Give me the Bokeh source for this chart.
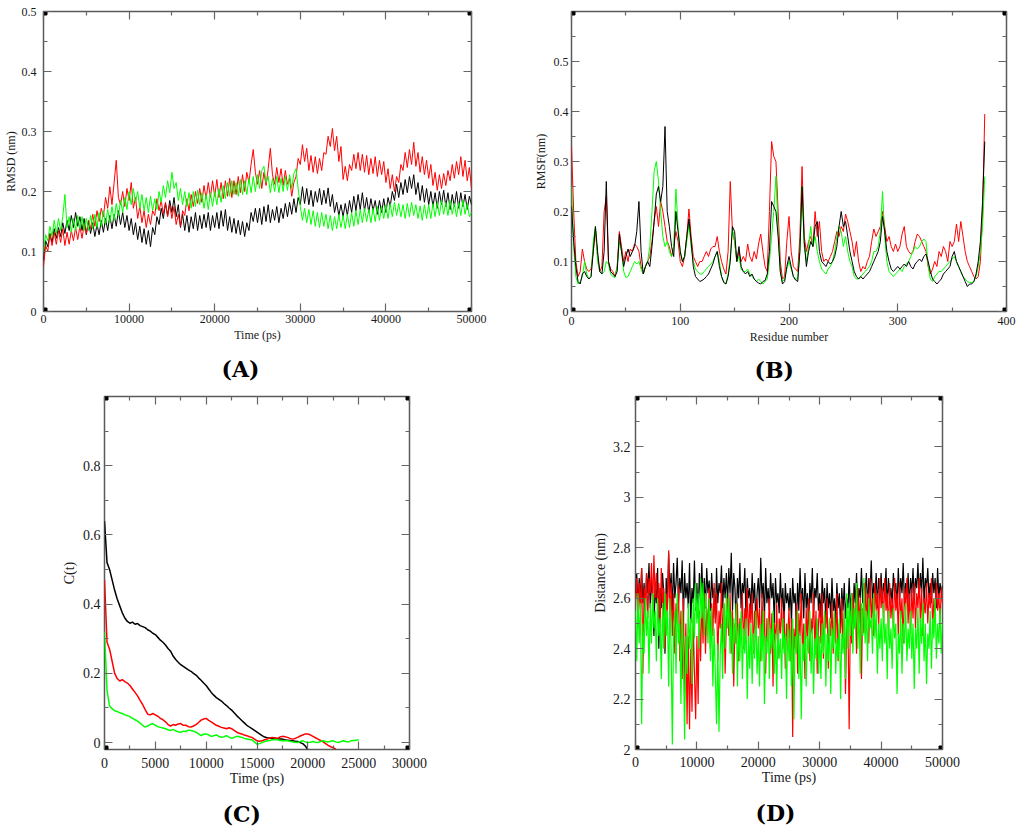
from bokeh.plotting import figure
from bokeh.layouts import column, row
from bokeh.models import (FixedTicker, LinearAxis, Range1d, Title, NumeralTickFormatter,
                          CustomLabelingPolicy)
from bokeh.embed import file_html
from bokeh.resources import INLINE

# ---------------- DATA ----------------
# (A) RMSD vs time, sampled every 250 ps
A_STEP = 250
a_black = [0.085, 0.118, 0.108, 0.13, 0.115, 0.138, 0.122, 0.14, 0.125, 0.148, 0.13, 0.152, 0.135, 0.16, 0.14, 0.165, 0.142, 0.158, 0.135, 0.155,
           0.128, 0.15, 0.13, 0.148, 0.125, 0.145, 0.128, 0.152, 0.132, 0.155, 0.135, 0.16, 0.138, 0.162, 0.142, 0.168, 0.145, 0.165, 0.14, 0.16,
           0.135, 0.155, 0.128, 0.148, 0.12, 0.142, 0.115, 0.138, 0.112, 0.135, 0.108, 0.14, 0.128, 0.158, 0.145, 0.172, 0.155, 0.18, 0.16, 0.185,
           0.165, 0.19, 0.158, 0.178, 0.14, 0.162, 0.135, 0.16, 0.132, 0.158, 0.138, 0.165, 0.135, 0.16, 0.138, 0.162, 0.14, 0.165, 0.135, 0.16,
           0.14, 0.165, 0.138, 0.168, 0.142, 0.17, 0.135, 0.158, 0.132, 0.155, 0.13, 0.152, 0.128, 0.15, 0.125, 0.148, 0.135, 0.165, 0.15, 0.172,
           0.148, 0.172, 0.145, 0.175, 0.15, 0.178, 0.148, 0.17, 0.152, 0.175, 0.148, 0.172, 0.155, 0.18, 0.158, 0.182, 0.162, 0.188, 0.165, 0.19,
           0.178, 0.208, 0.18, 0.205, 0.178, 0.202, 0.175, 0.2, 0.182, 0.205, 0.178, 0.202, 0.18, 0.206, 0.175, 0.195, 0.165, 0.182, 0.16, 0.178,
           0.158, 0.18, 0.16, 0.185, 0.165, 0.192, 0.168, 0.195, 0.17, 0.198, 0.168, 0.19, 0.165, 0.188, 0.168, 0.185, 0.162, 0.185, 0.165, 0.188,
           0.165, 0.19, 0.175, 0.2, 0.185, 0.212, 0.19, 0.215, 0.195, 0.22, 0.198, 0.225, 0.205, 0.228, 0.195, 0.215, 0.185, 0.21, 0.182, 0.205,
           0.178, 0.2, 0.175, 0.198, 0.172, 0.2, 0.178, 0.202, 0.175, 0.198, 0.17, 0.195, 0.175, 0.2, 0.172, 0.198, 0.175, 0.195, 0.17, 0.192, 0.178]
a_red = [0.075, 0.11, 0.1, 0.128, 0.11, 0.132, 0.112, 0.135, 0.115, 0.138, 0.11, 0.132, 0.112, 0.135, 0.118, 0.14, 0.12, 0.142, 0.122, 0.145,
         0.13, 0.152, 0.138, 0.162, 0.142, 0.168, 0.15, 0.172, 0.158, 0.19, 0.172, 0.208, 0.178, 0.215, 0.252, 0.19, 0.178, 0.2, 0.175, 0.205,
         0.185, 0.215, 0.172, 0.19, 0.155, 0.175, 0.148, 0.168, 0.14, 0.162, 0.145, 0.168, 0.16, 0.188, 0.168, 0.185, 0.162, 0.182, 0.158, 0.178,
         0.155, 0.175, 0.145, 0.162, 0.142, 0.168, 0.16, 0.188, 0.168, 0.195, 0.175, 0.2, 0.18, 0.205, 0.182, 0.21, 0.188, 0.215, 0.19, 0.218,
         0.192, 0.22, 0.19, 0.215, 0.188, 0.218, 0.192, 0.222, 0.19, 0.218, 0.195, 0.225, 0.198, 0.228, 0.2, 0.232, 0.215, 0.245, 0.27, 0.232,
         0.212, 0.235, 0.205, 0.232, 0.21, 0.238, 0.272, 0.228, 0.212, 0.24, 0.215, 0.238, 0.21, 0.235, 0.212, 0.222, 0.192, 0.215, 0.225, 0.255,
         0.245, 0.278, 0.25, 0.272, 0.235, 0.26, 0.232, 0.258, 0.23, 0.255, 0.235, 0.265, 0.262, 0.292, 0.275, 0.305, 0.268, 0.292, 0.25, 0.275,
         0.22, 0.242, 0.218, 0.245, 0.235, 0.262, 0.238, 0.265, 0.235, 0.262, 0.232, 0.26, 0.228, 0.255, 0.23, 0.258, 0.225, 0.252, 0.228, 0.25,
         0.215, 0.238, 0.205, 0.228, 0.2, 0.225, 0.215, 0.245, 0.235, 0.265, 0.24, 0.27, 0.245, 0.282, 0.242, 0.265, 0.232, 0.258, 0.228, 0.252,
         0.222, 0.245, 0.21, 0.232, 0.202, 0.228, 0.205, 0.23, 0.21, 0.235, 0.218, 0.245, 0.222, 0.25, 0.228, 0.258, 0.225, 0.252, 0.218, 0.24, 0.205]
a_green = [0.1, 0.128, 0.118, 0.142, 0.125, 0.152, 0.13, 0.155, 0.135, 0.158, 0.195, 0.14, 0.158, 0.132, 0.155, 0.135, 0.16, 0.138, 0.158, 0.135,
           0.155, 0.135, 0.16, 0.138, 0.162, 0.14, 0.165, 0.142, 0.168, 0.145, 0.17, 0.148, 0.175, 0.152, 0.18, 0.158, 0.185, 0.165, 0.19, 0.17,
           0.2, 0.178, 0.205, 0.182, 0.2, 0.172, 0.195, 0.168, 0.19, 0.165, 0.192, 0.168, 0.188, 0.17, 0.2, 0.182, 0.21, 0.19, 0.218, 0.198,
           0.232, 0.205, 0.215, 0.185, 0.205, 0.178, 0.2, 0.175, 0.198, 0.172, 0.2, 0.175, 0.202, 0.178, 0.198, 0.172, 0.195, 0.17, 0.198, 0.175,
           0.2, 0.178, 0.205, 0.182, 0.21, 0.188, 0.215, 0.192, 0.218, 0.195, 0.215, 0.192, 0.22, 0.195, 0.218, 0.195, 0.222, 0.198, 0.225, 0.2,
           0.228, 0.205, 0.235, 0.242, 0.215, 0.225, 0.198, 0.222, 0.2, 0.225, 0.198, 0.222, 0.2, 0.225, 0.202, 0.228, 0.205, 0.23, 0.238, 0.205,
           0.175, 0.152, 0.172, 0.148, 0.17, 0.145, 0.168, 0.142, 0.165, 0.14, 0.165, 0.142, 0.162, 0.138, 0.16, 0.135, 0.158, 0.138, 0.162, 0.14,
           0.16, 0.138, 0.162, 0.14, 0.165, 0.142, 0.168, 0.145, 0.17, 0.148, 0.172, 0.15, 0.17, 0.148, 0.172, 0.15, 0.175, 0.152, 0.175, 0.155,
           0.178, 0.155, 0.18, 0.158, 0.182, 0.16, 0.18, 0.158, 0.178, 0.155, 0.18, 0.158, 0.182, 0.16, 0.178, 0.155, 0.176, 0.152, 0.178, 0.155,
           0.178, 0.155, 0.18, 0.158, 0.182, 0.16, 0.185, 0.162, 0.182, 0.16, 0.185, 0.162, 0.18, 0.158, 0.182, 0.16, 0.185, 0.162, 0.18, 0.158, 0.165]

# (B) RMSF per residue, every 2nd residue
B_STEP = 2
b_black = [0.21, 0.14, 0.09, 0.06, 0.055, 0.075, 0.08, 0.07, 0.065, 0.07,
           0.12, 0.17, 0.12, 0.08, 0.075, 0.12, 0.26, 0.1, 0.08, 0.075,
           0.07, 0.08, 0.155, 0.12, 0.09, 0.11, 0.125, 0.11, 0.12, 0.13,
           0.16, 0.22, 0.12, 0.075, 0.09, 0.1, 0.09, 0.13, 0.18, 0.235,
           0.25, 0.22, 0.25, 0.37, 0.2, 0.17, 0.13, 0.11, 0.2, 0.16,
           0.12, 0.1, 0.11, 0.15, 0.185, 0.14, 0.09, 0.07, 0.065, 0.06,
           0.062, 0.065, 0.07, 0.075, 0.085, 0.095, 0.11, 0.12, 0.09, 0.07,
           0.058, 0.055, 0.07, 0.1, 0.17, 0.16, 0.1, 0.13, 0.09, 0.08,
           0.075, 0.08, 0.07, 0.075, 0.065, 0.06, 0.057, 0.055, 0.06, 0.062,
           0.075, 0.12, 0.22, 0.21, 0.2, 0.15, 0.08, 0.055, 0.06, 0.09,
           0.11, 0.09, 0.07, 0.063, 0.06, 0.12, 0.25, 0.14, 0.09, 0.12,
           0.14, 0.13, 0.17, 0.18, 0.12, 0.1, 0.095, 0.09, 0.1, 0.095,
           0.1, 0.11, 0.13, 0.17, 0.2, 0.17, 0.18, 0.15, 0.12, 0.1,
           0.08, 0.07, 0.065, 0.07, 0.065, 0.07, 0.075, 0.08, 0.09, 0.1,
           0.11, 0.12, 0.14, 0.19, 0.16, 0.12, 0.1, 0.085, 0.08, 0.085,
           0.09, 0.085, 0.09, 0.095, 0.09, 0.1, 0.09, 0.085, 0.095, 0.1,
           0.105, 0.1, 0.11, 0.115, 0.1, 0.08, 0.065, 0.06, 0.055, 0.06,
           0.065, 0.075, 0.08, 0.085, 0.09, 0.11, 0.12, 0.1, 0.09, 0.08,
           0.07, 0.06, 0.05, 0.055, 0.055, 0.06, 0.075, 0.1, 0.14, 0.22,
           0.34]
b_red = [0.33, 0.2, 0.1, 0.07, 0.08, 0.125, 0.1, 0.085, 0.08, 0.085,
         0.12, 0.165, 0.11, 0.08, 0.09, 0.2, 0.23, 0.1, 0.085, 0.08,
         0.07, 0.09, 0.16, 0.13, 0.1, 0.12, 0.1, 0.125, 0.12, 0.135,
         0.13, 0.12, 0.09, 0.075, 0.09, 0.1, 0.11, 0.14, 0.18, 0.21,
         0.17, 0.22, 0.2, 0.17, 0.14, 0.13, 0.11, 0.13, 0.16, 0.14,
         0.1, 0.09, 0.11, 0.15, 0.205, 0.15, 0.11, 0.1, 0.09, 0.1,
         0.1, 0.11, 0.12, 0.11, 0.125, 0.13, 0.13, 0.15, 0.12, 0.1,
         0.085, 0.075, 0.12, 0.26, 0.16, 0.14, 0.1, 0.12, 0.1, 0.11,
         0.1, 0.135, 0.11, 0.1, 0.12, 0.105, 0.135, 0.155, 0.12, 0.09,
         0.08, 0.2, 0.34, 0.31, 0.3, 0.2, 0.1, 0.065, 0.07, 0.14,
         0.19, 0.12, 0.09, 0.085, 0.08, 0.15, 0.29, 0.15, 0.12, 0.14,
         0.15, 0.13, 0.2, 0.15, 0.18, 0.12, 0.1, 0.105, 0.1, 0.11,
         0.12, 0.14, 0.16, 0.15, 0.17, 0.16, 0.195, 0.18, 0.16, 0.14,
         0.11, 0.14, 0.1, 0.08, 0.09, 0.085, 0.1, 0.11, 0.14, 0.165,
         0.15, 0.16, 0.17, 0.2, 0.17, 0.14, 0.15, 0.13, 0.12, 0.135,
         0.12, 0.13, 0.155, 0.17, 0.13, 0.12, 0.115, 0.12, 0.14, 0.155,
         0.15, 0.14, 0.13, 0.12, 0.09, 0.075, 0.085, 0.1, 0.09, 0.12,
         0.11, 0.13, 0.12, 0.1, 0.14, 0.13, 0.14, 0.175, 0.14, 0.18,
         0.15, 0.12, 0.1, 0.09, 0.08, 0.07, 0.065, 0.07, 0.1, 0.2,
         0.395]
b_green = [0.25, 0.13, 0.07, 0.055, 0.06, 0.07, 0.1, 0.075, 0.065, 0.07,
           0.14, 0.17, 0.1, 0.08, 0.075, 0.08, 0.1, 0.095, 0.075, 0.07,
           0.068, 0.09, 0.14, 0.12, 0.08, 0.068, 0.07, 0.08, 0.09, 0.1,
           0.095, 0.1, 0.085, 0.075, 0.09, 0.1, 0.13, 0.2, 0.28, 0.3,
           0.26, 0.2, 0.15, 0.13, 0.14, 0.12, 0.11, 0.13, 0.245, 0.17,
           0.12, 0.1, 0.11, 0.14, 0.175, 0.13, 0.1, 0.085, 0.08, 0.075,
           0.075, 0.08, 0.085, 0.09, 0.095, 0.1, 0.11, 0.12, 0.1, 0.07,
           0.06, 0.055, 0.075, 0.11, 0.165, 0.14, 0.1, 0.11, 0.085, 0.08,
           0.08, 0.085, 0.075, 0.07, 0.065, 0.06, 0.065, 0.06, 0.055, 0.06,
           0.065, 0.1, 0.15, 0.2, 0.27, 0.16, 0.08, 0.06, 0.065, 0.085,
           0.1, 0.085, 0.07, 0.065, 0.065, 0.12, 0.25, 0.13, 0.1, 0.13,
           0.17, 0.13, 0.15, 0.12, 0.1, 0.085, 0.08, 0.075, 0.085, 0.09,
           0.1, 0.12, 0.15, 0.17, 0.16, 0.13, 0.15, 0.12, 0.1, 0.09,
           0.07, 0.065, 0.065, 0.07, 0.075, 0.08, 0.085, 0.09, 0.1, 0.12,
           0.12, 0.13, 0.16, 0.24, 0.15, 0.1, 0.08, 0.075, 0.07, 0.075,
           0.08, 0.085, 0.08, 0.09, 0.095, 0.1, 0.11, 0.12, 0.13, 0.125,
           0.13, 0.14, 0.145, 0.14, 0.09, 0.065, 0.06, 0.07, 0.075, 0.08,
           0.08, 0.085, 0.09, 0.095, 0.1, 0.105, 0.11, 0.1, 0.09, 0.08,
           0.07, 0.065, 0.06, 0.058, 0.058, 0.06, 0.07, 0.09, 0.12, 0.17,
           0.27]

# (C) C(t), every 250 ps
C_STEP = 250
c_black = [0.64, 0.52, 0.50, 0.47, 0.44, 0.415, 0.395, 0.375, 0.36, 0.35,
           0.345, 0.348, 0.342, 0.344, 0.338, 0.335, 0.332, 0.326, 0.322, 0.316,
           0.312, 0.304, 0.296, 0.29, 0.282, 0.272, 0.264, 0.25, 0.24, 0.232,
           0.225, 0.22, 0.215, 0.21, 0.206, 0.2, 0.195, 0.187, 0.18, 0.172,
           0.165, 0.155, 0.145, 0.137, 0.13, 0.125, 0.12, 0.113, 0.107, 0.1,
           0.094, 0.086, 0.078, 0.071, 0.064, 0.057, 0.05, 0.045, 0.04, 0.035,
           0.03, 0.025, 0.02, 0.016, 0.014, 0.013, 0.012, 0.013, 0.011, 0.01,
           0.01, 0.008, 0.007, 0.006, 0.005, 0.004, 0.003, 0.0, -0.003, -0.01,
           -0.02]
c_red = [0.47, 0.29, 0.27, 0.235, 0.2, 0.185, 0.178, 0.182, 0.176, 0.172,
         0.165, 0.155, 0.145, 0.135, 0.122, 0.11, 0.095, 0.082, 0.08, 0.084,
         0.08, 0.076, 0.07, 0.066, 0.06, 0.052, 0.048, 0.052, 0.05, 0.054,
         0.055, 0.05, 0.05, 0.046, 0.045, 0.048, 0.052, 0.058, 0.065, 0.068,
         0.07, 0.064, 0.06, 0.055, 0.05, 0.047, 0.044, 0.042, 0.04, 0.043,
         0.04, 0.035, 0.03, 0.027, 0.025, 0.022, 0.02, 0.017, 0.015, 0.01,
         0.005, 0.004, 0.005, 0.008, 0.01, 0.013, 0.015, 0.013, 0.012, 0.016,
         0.018, 0.017, 0.015, 0.012, 0.01, 0.012, 0.015, 0.019, 0.022, 0.025,
         0.025, 0.022, 0.018, 0.014, 0.01, 0.006, 0.002, -0.003, -0.008, -0.012,
         -0.015, -0.019]
c_green = [0.32, 0.15, 0.105, 0.098, 0.092, 0.09, 0.086, 0.084, 0.08, 0.078,
           0.075, 0.07, 0.066, 0.062, 0.056, 0.05, 0.045, 0.048, 0.052, 0.055,
           0.05, 0.046, 0.044, 0.042, 0.04, 0.037, 0.035, 0.038, 0.034, 0.031,
           0.03, 0.033, 0.032, 0.036, 0.035, 0.033, 0.03, 0.025, 0.02, 0.024,
           0.025, 0.022, 0.018, 0.02, 0.022, 0.018, 0.015, 0.017, 0.02, 0.016,
           0.012, 0.015, 0.018, 0.017, 0.015, 0.012, 0.01, 0.009, 0.008, 0.002,
           -0.005, -0.003, 0.0, 0.003, 0.005, 0.006, 0.008, 0.009, 0.008, 0.006,
           0.005, 0.006, 0.005, 0.004, 0.002, 0.001, 0.0, 0.003, 0.005, 0.002,
           0.0, 0.001, 0.003, 0.001, 0.0, 0.003, 0.005, 0.003, 0.002, 0.004,
           0.005, 0.002, 0.0, 0.003, 0.005, 0.003, 0.002, 0.005, 0.006, 0.007,
           0.008]

# (D) distance vs time, every 200 ps
D_STEP = 200
d_black = [2.62, 2.70, 2.55, 2.68, 2.60, 2.72, 2.58, 2.66, 2.52, 2.70, 2.62, 2.74, 2.56, 2.68, 2.60, 2.45, 2.66, 2.58, 2.72, 2.40, 2.64, 2.56, 2.70, 2.62, 2.38,
           2.68, 2.58, 2.78, 2.62, 2.70, 2.55, 2.74, 2.60, 2.66, 2.76, 2.58, 2.68, 2.62, 2.75, 2.52, 2.70, 2.60, 2.66, 2.56, 2.74, 2.50, 2.64, 2.58, 2.75, 2.55,
           2.66, 2.52, 2.70, 2.60, 2.74, 2.58, 2.68, 2.56, 2.72, 2.62, 2.67, 2.55, 2.70, 2.60, 2.64, 2.52, 2.72, 2.58, 2.66, 2.62, 2.73, 2.56, 2.68, 2.60, 2.70,
           2.58, 2.72, 2.62, 2.78, 2.55, 2.70, 2.64, 2.48, 2.68, 2.60, 2.74, 2.56, 2.66, 2.62, 2.72, 2.52, 2.68, 2.60, 2.64, 2.55, 2.70, 2.58, 2.66, 2.50, 2.62,
           2.68, 2.56, 2.76, 2.60, 2.66, 2.52, 2.72, 2.58, 2.64, 2.55, 2.70, 2.60, 2.66, 2.50, 2.68, 2.58, 2.62, 2.54, 2.70, 2.56, 2.64, 2.50, 2.66, 2.58, 2.62,
           2.55, 2.64, 2.50, 2.68, 2.58, 2.62, 2.48, 2.66, 2.55, 2.72, 2.58, 2.64, 2.52, 2.70, 2.56, 2.62, 2.50, 2.66, 2.58, 2.72, 2.54, 2.64, 2.60, 2.70, 2.55,
           2.62, 2.52, 2.68, 2.58, 2.64, 2.50, 2.66, 2.56, 2.62, 2.52, 2.68, 2.55, 2.60, 2.50, 2.66, 2.56, 2.62, 2.48, 2.64, 2.55, 2.66, 2.52, 2.60, 2.56, 2.68,
           2.55, 2.62, 2.50, 2.66, 2.58, 2.70, 2.56, 2.64, 2.60, 2.72, 2.58, 2.66, 2.62, 2.70, 2.56, 2.68, 2.62, 2.75, 2.58, 2.66, 2.60, 2.70, 2.56, 2.68, 2.62,
           2.70, 2.58, 2.66, 2.62, 2.72, 2.56, 2.68, 2.60, 2.64, 2.58, 2.70, 2.62, 2.66, 2.56, 2.72, 2.60, 2.68, 2.62, 2.74, 2.58, 2.66, 2.60, 2.70, 2.56, 2.68,
           2.62, 2.72, 2.58, 2.68, 2.64, 2.74, 2.60, 2.70, 2.62, 2.76, 2.58, 2.68, 2.64, 2.72, 2.60, 2.66, 2.58, 2.70, 2.62, 2.68, 2.56, 2.72, 2.60, 2.66, 2.62,
           2.65]
d_red = [2.60, 2.68, 2.48, 2.66, 2.55, 2.72, 2.30, 2.64, 2.58, 2.70, 2.52, 2.68, 2.62, 2.74, 2.56, 2.77, 2.60, 2.70, 2.55, 2.66, 2.48, 2.72, 2.58, 2.64, 2.40,
         2.62, 2.55, 2.79, 2.50, 2.66, 2.45, 2.62, 2.38, 2.58, 2.50, 2.65, 2.35, 2.55, 2.28, 2.60, 2.20, 2.50, 2.10, 2.45, 2.08, 2.40, 2.15, 2.52, 2.30, 2.12,
         2.45, 2.18, 2.55, 2.35, 2.60, 2.42, 2.62, 2.38, 2.56, 2.48, 2.64, 2.40, 2.58, 2.45, 2.66, 2.50, 2.62, 2.35, 2.55, 2.48, 2.66, 2.42, 2.58, 2.30, 2.52,
         2.60, 2.45, 2.62, 2.38, 2.55, 2.25, 2.50, 2.42, 2.58, 2.35, 2.52, 2.46, 2.62, 2.40, 2.56, 2.48, 2.64, 2.42, 2.58, 2.50, 2.62, 2.38, 2.55, 2.45, 2.60,
         2.48, 2.56, 2.35, 2.62, 2.42, 2.55, 2.30, 2.52, 2.45, 2.60, 2.38, 2.54, 2.25, 2.50, 2.42, 2.58, 2.36, 2.52, 2.46, 2.60, 2.40, 2.55, 2.32, 2.50, 2.44,
         2.56, 2.35, 2.52, 2.05, 2.48, 2.40, 2.58, 2.30, 2.54, 2.45, 2.62, 2.38, 2.50, 2.28, 2.56, 2.44, 2.60, 2.35, 2.52, 2.46, 2.62, 2.40, 2.55, 2.30, 2.50,
         2.58, 2.42, 2.62, 2.36, 2.54, 2.48, 2.60, 2.32, 2.52, 2.45, 2.58, 2.38, 2.55, 2.42, 2.62, 2.35, 2.50, 2.46, 2.60, 2.40, 2.55, 2.22, 2.48, 2.52, 2.08,
         2.55, 2.42, 2.62, 2.48, 2.58, 2.38, 2.64, 2.50, 2.60, 2.28, 2.56, 2.46, 2.66, 2.50, 2.62, 2.42, 2.68, 2.52, 2.60, 2.45, 2.66, 2.55, 2.62, 2.48, 2.68,
         2.56, 2.64, 2.50, 2.68, 2.55, 2.62, 2.46, 2.66, 2.52, 2.60, 2.48, 2.68, 2.55, 2.62, 2.45, 2.66, 2.52, 2.60, 2.42, 2.64, 2.55, 2.68, 2.50, 2.62, 2.46,
         2.64, 2.52, 2.66, 2.48, 2.62, 2.56, 2.68, 2.50, 2.64, 2.45, 2.60, 2.54, 2.66, 2.50, 2.62, 2.56, 2.68, 2.48, 2.60, 2.52, 2.66, 2.55, 2.62, 2.50, 2.64,
         2.58]
d_green = [2.55, 2.35, 2.62, 2.42, 2.58, 2.10, 2.50, 2.38, 2.60, 2.45, 2.55, 2.30, 2.58, 2.42, 2.62, 2.48, 2.55, 2.35, 2.60, 2.45, 2.52, 2.28, 2.58, 2.40, 2.62,
           2.45, 2.55, 2.25, 2.60, 2.40, 2.02, 2.48, 2.55, 2.30, 2.62, 2.42, 2.50, 2.18, 2.55, 2.38, 2.04, 2.45, 2.30, 2.58, 2.40, 2.52, 2.26, 2.60, 2.44, 2.66,
           2.50, 2.62, 2.40, 2.68, 2.52, 2.66, 2.45, 2.62, 2.55, 2.42, 2.60, 2.35, 2.56, 2.25, 2.48, 2.30, 2.10, 2.42, 2.07, 2.38, 2.50, 2.28, 2.58, 2.40, 2.62,
           2.48, 2.60, 2.38, 2.55, 2.30, 2.52, 2.42, 2.58, 2.25, 2.50, 2.35, 2.55, 2.28, 2.48, 2.38, 2.52, 2.20, 2.45, 2.32, 2.50, 2.26, 2.46, 2.36, 2.55, 2.30,
           2.45, 2.25, 2.50, 2.35, 2.55, 2.18, 2.45, 2.38, 2.52, 2.28, 2.48, 2.40, 2.55, 2.30, 2.46, 2.22, 2.50, 2.36, 2.44, 2.28, 2.52, 2.38, 2.46, 2.20, 2.50,
           2.35, 2.48, 2.25, 2.52, 2.12, 2.45, 2.38, 2.55, 2.28, 2.46, 2.12, 2.42, 2.35, 2.50, 2.25, 2.45, 2.38, 2.55, 2.30, 2.48, 2.22, 2.44, 2.36, 2.52, 2.30,
           2.45, 2.28, 2.50, 2.38, 2.55, 2.25, 2.46, 2.35, 2.52, 2.22, 2.48, 2.40, 2.55, 2.30, 2.44, 2.36, 2.52, 2.20, 2.46, 2.38, 2.55, 2.28, 2.62, 2.40, 2.58,
           2.45, 2.62, 2.38, 2.56, 2.48, 2.66, 2.40, 2.55, 2.30, 2.58, 2.45, 2.68, 2.42, 2.55, 2.35, 2.60, 2.48, 2.52, 2.38, 2.62, 2.44, 2.55, 2.30, 2.50, 2.40,
           2.52, 2.35, 2.58, 2.42, 2.50, 2.28, 2.55, 2.40, 2.48, 2.32, 2.56, 2.44, 2.50, 2.22, 2.46, 2.38, 2.55, 2.30, 2.50, 2.42, 2.58, 2.35, 2.48, 2.40, 2.55,
           2.36, 2.50, 2.24, 2.48, 2.40, 2.56, 2.30, 2.52, 2.42, 2.58, 2.35, 2.50, 2.26, 2.46, 2.40, 2.55, 2.32, 2.52, 2.44, 2.60, 2.36, 2.50, 2.42, 2.56, 2.38,
           2.50]

# ticks and tick labels
a_xticks = [0, 10000, 20000, 30000, 40000, 50000]
a_xlabels = ["0", "10000", "20000", "30000", "40000", "50000"]
a_xminor = [5000, 15000, 25000, 35000, 45000]
a_yticks = [0, 0.1, 0.2, 0.3, 0.4, 0.5]
a_ylabels = ["0", "0.1", "0.2", "0.3", "0.4", "0.5"]
a_yminor = [0.05, 0.15, 0.25, 0.35, 0.45]

b_xticks = [0, 100, 200, 300, 400]
b_xlabels = ["0", "100", "200", "300", "400"]
b_xminor = [50, 150, 250, 350]
b_yticks = [0, 0.1, 0.2, 0.3, 0.4, 0.5]
b_ylabels = ["0", "0.1", "0.2", "0.3", "0.4", "0.5"]
b_yminor = [0.05, 0.15, 0.25, 0.35, 0.45, 0.55]

c_xticks = [0, 5000, 10000, 15000, 20000, 25000, 30000]
c_xlabels = ["0", "5000", "10000", "15000", "20000", "25000", "30000"]
c_xminor = [2500, 7500, 12500, 17500, 22500, 27500]
c_yticks = [0, 0.2, 0.4, 0.6, 0.8]
c_ylabels = ["0", "0.2", "0.4", "0.6", "0.8"]
c_yminor = [0.1, 0.3, 0.5, 0.7, 0.9]

d_xticks = [0, 10000, 20000, 30000, 40000, 50000]
d_xlabels = ["0", "10000", "20000", "30000", "40000", "50000"]
d_xminor = [5000, 15000, 25000, 35000, 45000]
d_yticks = [2, 2.2, 2.4, 2.6, 2.8, 3, 3.2]
d_ylabels = ["2", "2.2", "2.4", "2.6", "2.8", "3", "3.2"]
d_yminor = [2.1, 2.3, 2.5, 2.7, 2.9, 3.1, 3.3]

# ---------------- STYLE ----------------
TICK = "#666666"
FRAME = "#5a5a5a"
SERIF = "Liberation Serif"
BLACK, RED, GREEN = "#000000", "#ff0000", "#00ff00"

NO_LABELS = """
for (const i of indices) {
    indices.unset(i)
}
return indices
"""


def style_axis(ax, ticks, minor, labels, font_px, show, standoff):
    ax.ticker = FixedTicker(ticks=ticks, minor_ticks=minor)
    ax.major_tick_in = 8
    ax.major_tick_out = 0
    ax.minor_tick_in = 4
    ax.minor_tick_out = 0
    ax.major_tick_line_color = TICK
    ax.minor_tick_line_color = TICK
    ax.major_tick_line_width = 1.2
    ax.minor_tick_line_width = 1.2
    ax.axis_line_color = None
    if show:
        ax.formatter = NumeralTickFormatter(format="0.[0]")
        ax.major_label_overrides = dict(zip(ticks, labels))
        ax.major_label_text_font = SERIF
        ax.major_label_text_font_size = f"{font_px}px"
        ax.major_label_text_color = "#1a1a1a"
        ax.major_label_standoff = standoff
    else:
        ax.major_label_policy = CustomLabelingPolicy(code=NO_LABELS)
        ax.major_label_text_font_size = "0px"
        ax.major_label_standoff = 0


def panel(width, height, borders, xr, yr, xt, xm, xl, yt, ym, yl, xlabel, ylabel,
          font_px, xstd, xlstd, ystd, ylstd, tag, tag_offset, tag_standoff):
    left, right, top, bottom = borders
    p = figure(width=width, height=height, x_range=Range1d(*xr), y_range=Range1d(*yr),
               output_backend="svg", toolbar_location=None, tools="", title=None,
               x_axis_type=None, y_axis_type=None,
               min_border_left=left, min_border_right=right,
               min_border_top=top, min_border_bottom=bottom)
    p.grid.visible = False
    p.outline_line_color = FRAME
    p.outline_line_width = 1.5
    p.background_fill_color = "white"
    p.border_fill_color = "white"

    xb = LinearAxis(axis_label=xlabel)
    style_axis(xb, xt, xm, xl, font_px, True, xstd)
    yl_ax = LinearAxis(axis_label=ylabel)
    style_axis(yl_ax, yt, ym, yl, font_px, True, ystd)
    for ax, std in ((xb, xlstd), (yl_ax, ylstd)):
        ax.axis_label_text_font = SERIF
        ax.axis_label_text_font_style = "normal"
        ax.axis_label_text_font_size = f"{font_px}px"
        ax.axis_label_text_color = "#1a1a1a"
        ax.axis_label_standoff = std
    p.add_layout(xb, "below")
    p.add_layout(yl_ax, "left")
    xa = LinearAxis()
    style_axis(xa, xt, xm, xl, font_px, False, 0)
    p.add_layout(xa, "above")
    yr_ax = LinearAxis()
    style_axis(yr_ax, yt, ym, yl, font_px, False, 0)
    p.add_layout(yr_ax, "right")

    t = Title(text=tag, align="left", offset=tag_offset, standoff=tag_standoff,
              text_font="DejaVu Serif", text_font_style="bold",
              text_font_size="22px", text_color="black")
    p.add_layout(t, "below")

    p.scatter(x=[xr[0], xr[1], xr[0], xr[1]], y=[yr[0], yr[0], yr[1], yr[1]],
              marker="square", size=7, color="black")
    return p


def times(series, step):
    return [i * step for i in range(len(series))]


pA = panel(510, 391, (41, 39, 11, 78), (0, 50000), (0, 0.5),
           a_xticks, a_xminor, a_xlabels, a_yticks, a_yminor, a_ylabels,
           "Time (ps)", "RMSD (nm)", 12, 3, 2, 7, 1, "(A)", 178, 19)
for s, c in ((a_black, BLACK), (a_red, RED), (a_green, GREEN)):
    pA.line(times(s, A_STEP), s, line_color=c, line_width=1.0)

pB = panel(514, 391, (61, 18, 9, 77), (0, 400), (0, 0.6),
           b_xticks, b_xminor, b_xlabels, b_yticks, b_yminor, b_ylabels,
           "Residue number", "RMSF(nm)", 12, 5, 2, 3, 3, "(B)", 183, 17)
for s, c in ((b_red, RED), (b_green, GREEN), (b_black, BLACK)):
    pB.line(times(s, B_STEP), s, line_color=c, line_width=1.0)

pC = panel(510, 445, (104, 101, 5, 84), (0, 30000), (-0.02, 1.0),
           c_xticks, c_xminor, c_xlabels, c_yticks, c_yminor, c_ylabels,
           "Time (ps)", "C(t)", 14, 8, 0, 4, 3, "(C)", 118, 20)
for s, c in ((c_black, BLACK), (c_red, RED), (c_green, GREEN)):
    pC.line(times(s, C_STEP), s, line_color=c, line_width=1.5)

pD = panel(514, 445, (125, 82, 5, 84), (0, 50000), (2, 3.4),
           d_xticks, d_xminor, d_xlabels, d_yticks, d_yminor, d_ylabels,
           "Time (ps)", "Distance (nm)", 14, 7, 0, 5, 2, "(D)", 120, 20)
for s, c in ((d_black, BLACK), (d_red, RED), (d_green, GREEN)):
    pD.line(times(s, D_STEP), s, line_color=c, line_width=1.2)

layout = column(row(pA, pB, spacing=0), row(pC, pD, spacing=0), spacing=0)
open("out.html", "w").write(file_html(layout, INLINE, "MD analysis"))
